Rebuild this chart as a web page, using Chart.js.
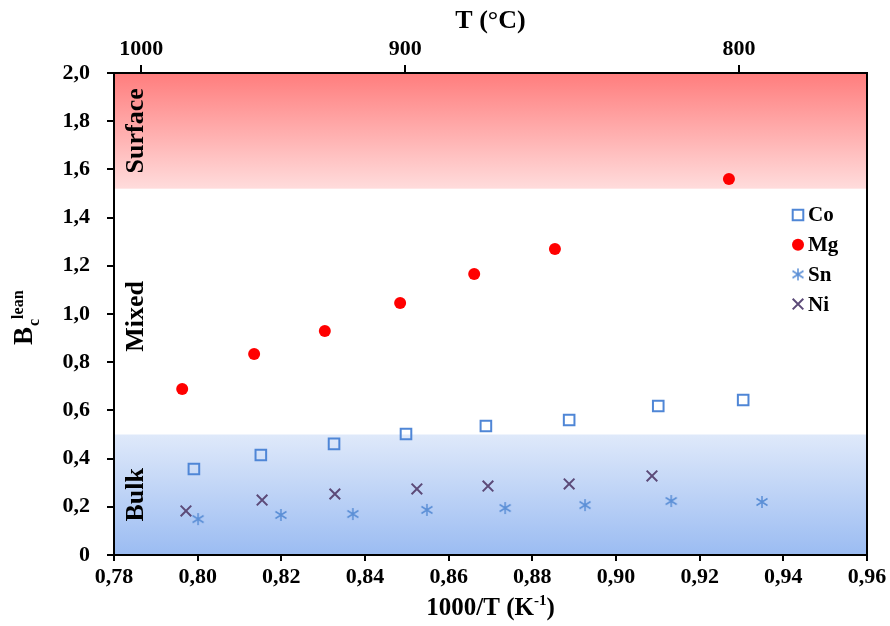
<!DOCTYPE html>
<html>
<head>
<meta charset="utf-8">
<script src="https://cdn.jsdelivr.net/npm/chart.js@4/dist/chart.umd.min.js"></script>
<style>
  body { margin: 0; background: #fff; }
  #chart { display: block; }
</style>
</head>
<body>
<canvas id="chart" width="890" height="626"></canvas>
<script>
// values (x = 1000/T in K^-1, y = Bc lean)
const coX = [0.7991, 0.8151, 0.8326, 0.8498, 0.8689, 0.8888, 0.9101, 0.9304];
const coY = [0.357, 0.415, 0.461, 0.502, 0.535, 0.560, 0.618, 0.643];

const mgX = [0.7963, 0.8135, 0.8304, 0.8484, 0.8661, 0.8854, 0.9270];
const mgY = [0.689, 0.834, 0.929, 1.046, 1.166, 1.270, 1.560];

const snX = [0.8001, 0.8199, 0.8371, 0.8548, 0.8735, 0.8926, 0.9132, 0.9349];
const snY = [0.149, 0.166, 0.170, 0.187, 0.195, 0.207, 0.224, 0.220];

const niX = [0.7972, 0.8154, 0.8328, 0.8524, 0.8694, 0.8888, 0.9086];
const niY = [0.183, 0.228, 0.253, 0.274, 0.286, 0.295, 0.328];

// top axis: temperature in °C, placed where the reference puts them
const topTickPos = [0.7865, 0.8496, 0.9294];
const topTickLabels = ['1000', '900', '800'];

// regime bands (y values) and their labels
const bandSurface = [1.52, 2.0];
const bandBulk = [0, 0.5];
const regimeLabels = ['Surface', 'Mixed', 'Bulk'];
const regimeY = [1.76, 0.99, 0.25];

const SERIF = '"Liberation Serif", "Times New Roman", serif';
Chart.defaults.font.family = SERIF;
Chart.defaults.color = '#000';

function toPoints(xs, ys) {
  return xs.map((x, i) => ({ x: x, y: ys[i] }));
}
function comma(v, d) {
  return v.toFixed(d).replace('.', ',');
}

// Excel-like asterisk marker (vertical bar + X)
function starMarker(color) {
  const c = document.createElement('canvas');
  c.width = 14; c.height = 14;
  const g = c.getContext('2d');
  g.strokeStyle = color;
  g.lineWidth = 1.5;
  g.beginPath();
  g.moveTo(7, 1); g.lineTo(7, 13);
  g.moveTo(1.5, 3.5); g.lineTo(12.5, 10.5);
  g.moveTo(1.5, 10.5); g.lineTo(12.5, 3.5);
  g.stroke();
  return c;
}

const bandsPlugin = {
  id: 'bands',
  beforeDatasetsDraw(chart) {
    const { ctx, chartArea: a, scales: { y } } = chart;
    ctx.save();
    // surface band (red, darker at top)
    let t = y.getPixelForValue(bandSurface[1]);
    let b = y.getPixelForValue(bandSurface[0]);
    let gr = ctx.createLinearGradient(0, t, 0, b);
    gr.addColorStop(0, 'rgb(255,125,125)');
    gr.addColorStop(1, 'rgb(255,220,220)');
    ctx.fillStyle = gr;
    ctx.fillRect(a.left, t, a.right - a.left, b - t);
    // bulk band (blue, darker at bottom)
    t = y.getPixelForValue(bandBulk[1]);
    b = y.getPixelForValue(bandBulk[0]);
    gr = ctx.createLinearGradient(0, t, 0, b);
    gr.addColorStop(0, 'rgb(223,233,250)');
    gr.addColorStop(1, 'rgb(155,188,242)');
    ctx.fillStyle = gr;
    ctx.fillRect(a.left, t, a.right - a.left, b - t);

    // regime labels, rotated
    ctx.fillStyle = '#000';
    ctx.font = 'bold 26px ' + SERIF;
    ctx.textAlign = 'center';
    ctx.textBaseline = 'middle';
    regimeLabels.forEach((lbl, i) => {
      ctx.save();
      ctx.translate(a.left + 22, y.getPixelForValue(regimeY[i]));
      ctx.rotate(-Math.PI / 2);
      ctx.fillText(lbl, 0, 0);
      ctx.restore();
    });
    ctx.restore();
  },
  afterDraw(chart) {
    const { ctx, chartArea: a } = chart;
    ctx.save();
    ctx.strokeStyle = '#000';
    ctx.lineWidth = 2;
    ctx.strokeRect(a.left, a.top, a.right - a.left, a.bottom - a.top);

    // legend inside the plot, right side
    ctx.font = 'bold 21px ' + SERIF;
    ctx.textAlign = 'left';
    ctx.textBaseline = 'middle';
    ctx.fillStyle = '#000';
    chart.data.datasets.forEach((ds, i) => {
      const ly = 215 + i * 29.7;
      const lx = 798;
      const opts = {
        pointStyle: ds.pointStyle,
        radius: ds.pointRadius,
        borderWidth: ds.borderWidth
      };
      ctx.save();
      ctx.fillStyle = ds.backgroundColor;
      ctx.strokeStyle = ds.borderColor;
      ctx.lineWidth = opts.borderWidth;
      Chart.helpers.drawPoint(ctx, opts, lx, ly);
      ctx.restore();
      ctx.fillText(ds.label, lx + 10, ly + 1);
    });

    // x axis title with superscript
    ctx.textBaseline = 'alphabetic';
    const base = 'bold 25px ' + SERIF;
    const sup = 'bold 15px ' + SERIF;
    ctx.font = base;
    const p1 = '1000/T (K';
    const p3 = ')';
    const w1 = ctx.measureText(p1).width;
    const w3 = ctx.measureText(p3).width;
    ctx.font = sup;
    const p2 = '-1';
    const w2 = ctx.measureText(p2).width;
    let sx = (a.left + a.right) / 2 - (w1 + w2 + w3) / 2;
    const by = 615;
    ctx.font = base; ctx.fillText(p1, sx, by); sx += w1;
    ctx.font = sup; ctx.fillText(p2, sx, by - 10); sx += w2;
    ctx.font = base; ctx.fillText(p3, sx, by);

    // y axis title: B with subscript c and superscript lean, rotated
    ctx.translate(32, 345);
    ctx.rotate(-Math.PI / 2);
    ctx.font = 'bold 27px ' + SERIF;
    ctx.fillText('B', 0, 0);
    const wb = ctx.measureText('B').width;
    ctx.font = 'bold 16px ' + SERIF;
    ctx.fillText('c', wb + 1, 7);
    const wc = ctx.measureText('c').width;
    ctx.fillText('lean', wb + wc + 1, -9);
    ctx.restore();
  }
};

new Chart(document.getElementById('chart'), {
  type: 'scatter',
  data: {
    datasets: [
      {
        label: 'Co',
        data: toPoints(coX, coY),
        pointStyle: 'rect',
        pointRadius: 7.5,
        borderWidth: 2,
        borderColor: '#4f86d6',
        backgroundColor: 'rgba(255,255,255,0)'
      },
      {
        label: 'Mg',
        data: toPoints(mgX, mgY),
        pointStyle: 'circle',
        pointRadius: 6,
        borderWidth: 0,
        borderColor: '#ff0000',
        backgroundColor: '#ff0000'
      },
      {
        label: 'Sn',
        data: toPoints(snX, snY),
        pointStyle: starMarker('#5b8fd6'),
        pointRadius: 6,
        borderWidth: 1.5,
        borderColor: '#5b8fd6',
        backgroundColor: '#5b8fd6'
      },
      {
        label: 'Ni',
        data: toPoints(niX, niY),
        pointStyle: 'crossRot',
        pointRadius: 7.5,
        borderWidth: 2,
        borderColor: '#5c4a78',
        backgroundColor: '#5c4a78'
      }
    ]
  },
  options: {
    responsive: false,
    animation: false,
    devicePixelRatio: 1,
    layout: { padding: { left: 0, right: 23, top: 0, bottom: 0 } },
    plugins: {
      legend: { display: false },
      tooltip: { enabled: false }
    },
    scales: {
      x: {
        type: 'linear',
        position: 'bottom',
        min: 0.78,
        max: 0.96,
        grid: { drawOnChartArea: false, tickLength: 6, color: '#000', lineWidth: 2 },
        border: { display: true, color: '#000', width: 2 },
        ticks: {
          stepSize: 0.02,
          padding: 3,
          font: { size: 22, weight: 'bold' },
          callback: (v) => comma(v, 2)
        },
        afterFit: (s) => { s.height = 71; }
      },
      x2: {
        type: 'linear',
        position: 'top',
        min: 0.78,
        max: 0.96,
        grid: { drawOnChartArea: false, tickLength: 8, color: '#000', lineWidth: 2 },
        border: { display: true, color: '#000', width: 2 },
        afterBuildTicks: (s) => { s.ticks = topTickPos.map(v => ({ value: v })); },
        ticks: {
          padding: 2,
          font: { size: 22, weight: 'bold' },
          callback: (v, i) => topTickLabels[i]
        },
        title: {
          display: true,
          text: 'T (°C)',
          font: { size: 26, weight: 'bold' },
          padding: { top: 6, bottom: 0 }
        },
        afterFit: (s) => { s.height = 73; }
      },
      y: {
        min: 0,
        max: 2,
        grid: { drawOnChartArea: false, tickLength: 7, color: '#000', lineWidth: 2 },
        border: { display: true, color: '#000', width: 2 },
        ticks: {
          stepSize: 0.2,
          padding: 17,
          font: { size: 22, weight: 'bold' },
          callback: (v) => (v === 0 ? '0' : comma(v, 1))
        },
        afterFit: (s) => { s.width = 114; }
      }
    }
  },
  plugins: [bandsPlugin]
});
</script>
</body>
</html>
